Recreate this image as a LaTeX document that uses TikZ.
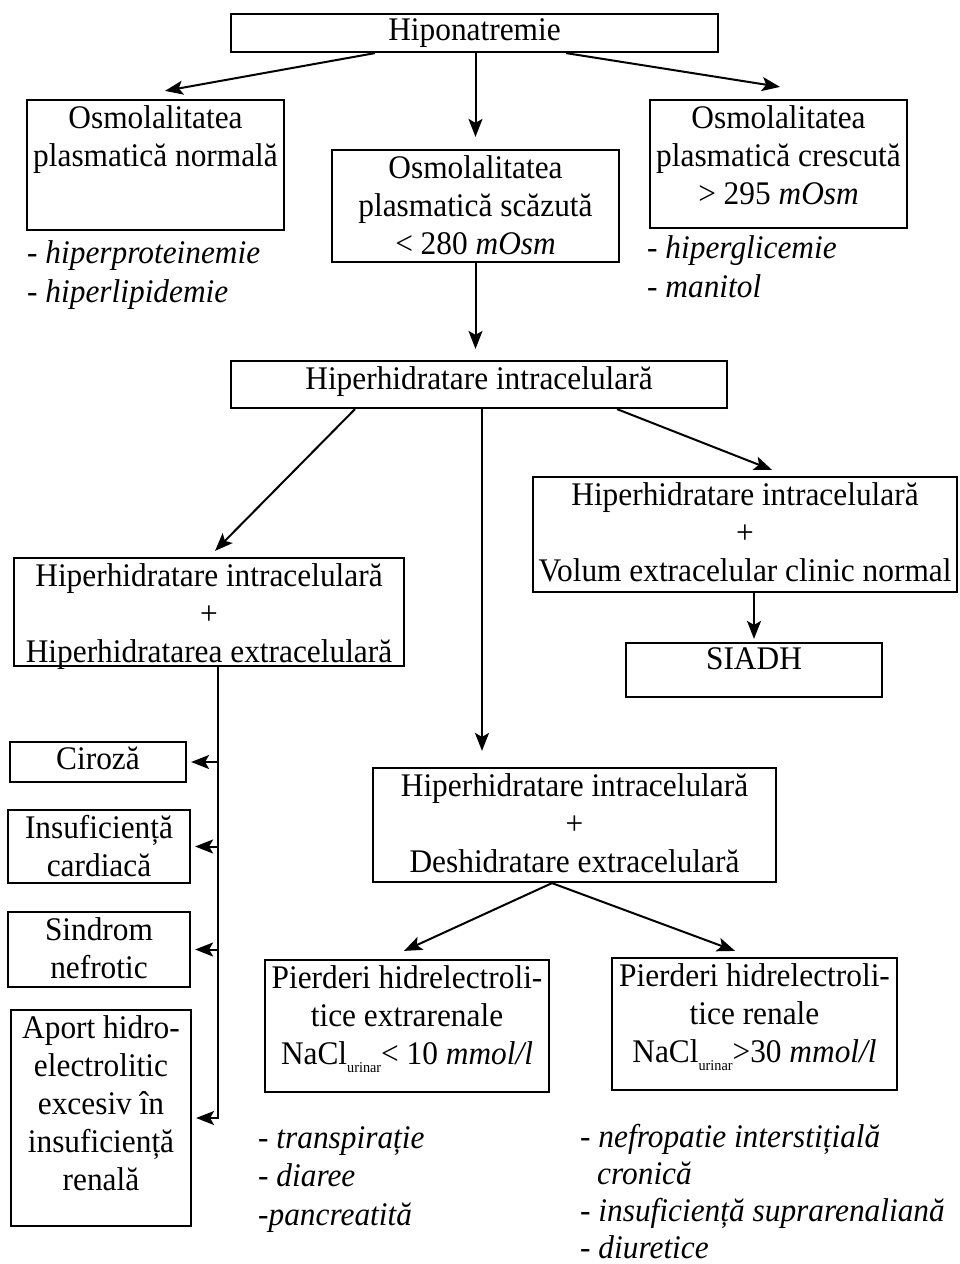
\documentclass[tikz,border=0pt]{standalone}
\usepackage{fontspec}
\setmainfont[FakeStretch=0.95]{Liberation Serif}
\usetikzlibrary{arrows.meta,calc}
\tikzset{box/.style={draw,line width=2.2pt,inner sep=0pt},
  txt/.style={anchor=north,align=center,inner xsep=1pt,inner ysep=6pt,font=\fontsize{33}{38}\selectfont},
  lst/.style={anchor=north west,align=left,inner sep=0pt,font=\fontsize{33}{38.5}\selectfont},
  arr/.style={line width=2pt,-{Stealth[length=18pt,width=14pt,inset=4pt]}}}
\newcommand{\urin}{\raisebox{-8pt}{\fontsize{15}{15}\selectfont urinar}}

\begin{document}
\begin{tikzpicture}[x=1pt,y=-1pt]
\useasboundingbox (0,0) rectangle (960,1264);
\node[box,minimum width=487pt,minimum height=38pt] (hip) at (474.5,33) {};
\node[box,minimum width=257pt,minimum height=130pt] (norm) at (155.5,165) {};
\node[box,minimum width=287pt,minimum height=112pt] (scaz) at (475.5,206) {};
\node[box,minimum width=257pt,minimum height=128pt] (cresc) at (778.5,164) {};
\node[box,minimum width=496pt,minimum height=47pt] (hic) at (479,384.5) {};
\node[box,minimum width=390pt,minimum height=108pt] (hhe) at (209,612) {};
\node[box,minimum width=424pt,minimum height=115pt] (vol) at (745,534.5) {};
\node[box,minimum width=256pt,minimum height=54pt] (siadh) at (754,670) {};
\node[box,minimum width=403pt,minimum height=114pt] (desh) at (574.5,825) {};
\node[box,minimum width=176pt,minimum height=40pt] (ciroza) at (98,762) {};
\node[box,minimum width=182pt,minimum height=73pt] (insuf) at (99,846.5) {};
\node[box,minimum width=182pt,minimum height=75pt] (sindr) at (99,949.5) {};
\node[box,minimum width=180pt,minimum height=216pt] (aport) at (101,1118) {};
\node[box,minimum width=284pt,minimum height=132pt] (extra) at (407,1026) {};
\node[box,minimum width=285pt,minimum height=132pt] (renal) at (754.5,1024) {};

\node[txt] (hip-t) at (hip.north) {Hiponatremie};
\node[txt] (norm-t) at (norm.north) {Osmolalitatea\\plasmatică normală};
\node[txt] (scaz-t) at (scaz.north) {Osmolalitatea\\plasmatică scăzută\\< 280 \textit{mOsm}};
\node[txt] (cresc-t) at (cresc.north) {Osmolalitatea\\plasmatică crescută\\> 295 \textit{mOsm}};
\node[txt] (hic-t) at (hic.north) {Hiperhidratare intracelulară};
\node[txt] (hhe-t) at (hhe.north) {Hiperhidratare intracelulară\\+\\Hiperhidratarea extracelulară};
\node[txt] (vol-t) at (vol.north) {Hiperhidratare intracelulară\\+\\Volum extracelular clinic normal};
\node[txt] (siadh-t) at (siadh.north) {SIADH};
\node[txt] (desh-t) at (desh.north) {Hiperhidratare intracelulară\\+\\Deshidratare extracelulară};
\node[txt] (ciroza-t) at (ciroza.north) {Ciroză};
\node[txt] (insuf-t) at (insuf.north) {Insuficiență\\cardiacă};
\node[txt] (sindr-t) at (sindr.north) {Sindrom\\nefrotic};
\node[txt] (aport-t) at (aport.north) {Aport hidro-\\electrolitic\\excesiv în\\insuficiență\\renală};
\node[txt] (extra-t) at (extra.north) {Pierderi hidrelectroli-\\tice extrarenale\\NaCl\urin< 10 \textit{mmol/l}};
\node[txt] (renal-t) at (renal.north) {Pierderi hidrelectroli-\\tice renale\\NaCl\urin>30 \textit{mmol/l}};

\node[lst] (norm-l) at (27,240.5) {- \textit{hiperproteinemie}\\- \textit{hiperlipidemie}};
\node[lst] (cresc-l) at (647,235.5) {- \textit{hiperglicemie}\\- \textit{manitol}};
\node[lst] (extra-l) at (258,1126) {- \textit{transpirație}\\- \textit{diaree}\\-\textit{pancreatită}};
\node[lst,font=\fontsize{33}{37}\selectfont] (renal-l) at (580,1124) {- \textit{nefropatie interstițială}\\\hspace*{17pt}\textit{cronică}\\- \textit{insuficiență suprarenaliană}\\- \textit{diuretice}};

\draw[arr] ([xshift=-99.5pt]hip.south) -- ([xshift=9.5pt,yshift=8pt]norm.north);
\draw[arr] (scaz.north |- hip.south) -- ([yshift=12pt]scaz.north);
\draw[arr] ([xshift=91.5pt]hip.south) -- ([xshift=1.5pt,yshift=12pt]cresc.north);
\draw[arr] (scaz.south) -- ([yshift=11pt]scaz.south |- hic.north);
\draw[arr] ([xshift=-124pt]hic.south) -- ([xshift=6pt,yshift=6pt]hhe.north);
\draw[arr] ([xshift=138pt]hic.south) -- ([xshift=27pt,yshift=6pt]vol.north);
\draw[arr] ([xshift=3pt]hic.south) -- ([xshift=3pt,yshift=16pt]hic.south |- desh.north);
\draw[arr] (siadh.north |- vol.south) -- ([yshift=3pt]siadh.north);
\coordinate (bus) at (218,700);
\draw[arr] (bus |- hhe.south) -- (bus |- aport.east) -- ([xshift=4pt]aport.east);
\foreach \b in {ciroza,insuf,sindr}
  \draw[arr] (bus |- \b.east) -- ([xshift=4pt]\b.east);
\draw[arr] ([xshift=-22.5pt]desh.south) -- ([xshift=-3pt,yshift=8pt]extra.north);
\draw[arr] ([xshift=-22.5pt]desh.south) -- ([xshift=-19.5pt,yshift=6pt]renal.north);
\end{tikzpicture}
\end{document}
